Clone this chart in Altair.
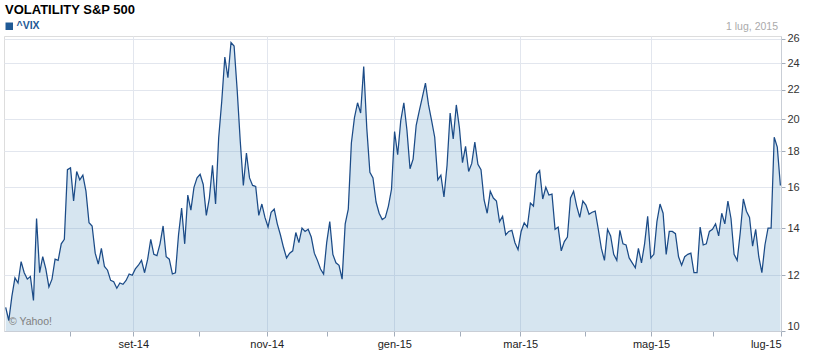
import altair as alt
import pandas as pd

# ^VIX daily closes, trading days 2 Jul 2014 .. 1 Jul 2015
jul14 = [10.8, 10.35, 11.2, 11.9, 11.7, 12.55, 12.1, 11.85, 11.95, 11.05, 14.45, 12.1, 12.75, 12.25, 11.55, 11.85, 12.65, 12.6, 13.3, 13.5, 16.95]
aug14 = [17.05, 15.3, 16.85, 16.4, 16.65, 15.8, 14.25, 14.1, 12.9, 12.45, 13.1, 12.35, 12.2, 11.8, 11.75, 11.5, 11.7, 11.65, 11.8, 12.05, 12.0]
sep14 = [12.25, 12.4, 12.6, 12.1, 12.65, 13.5, 12.85, 12.8, 13.3, 14.1, 12.75, 12.65, 12.05, 12.1, 13.7, 14.95, 13.3, 15.6, 14.85, 16.0, 16.5]
oct14 = [16.7, 16.15, 14.6, 15.45, 17.2, 15.15, 18.8, 21.2, 24.5, 22.9, 25.7, 25.4, 22.0, 18.6, 16.1, 17.9, 16.5, 16.1, 16.05, 14.6, 15.15, 14.5, 14.05]
nov14 = [14.75, 14.9, 14.2, 13.7, 13.15, 12.7, 12.9, 13.0, 13.8, 13.35, 14.0, 13.85, 13.95, 13.6, 12.9, 12.6, 12.25, 12.05, 13.35]
dec14 = [14.3, 12.85, 12.5, 12.4, 11.85, 14.2, 14.9, 18.5, 20.1, 21.1, 20.4, 23.75, 19.4, 16.8, 16.5, 15.25, 14.7, 14.4, 14.5, 15.05, 15.9, 19.2]
jan15 = [17.8, 19.9, 21.1, 19.3, 17.0, 17.55, 19.6, 20.55, 21.5, 22.5, 20.95, 19.9, 18.85, 16.4, 16.65, 15.5, 17.2, 20.4, 18.75, 20.95]
feb15 = [19.45, 17.35, 18.3, 16.85, 17.3, 18.55, 17.25, 16.95, 15.35, 14.7, 15.8, 15.45, 15.3, 14.3, 14.55, 13.7, 13.85, 13.9, 13.35]
mar15 = [13.05, 13.85, 14.25, 14.05, 15.2, 15.05, 16.7, 16.9, 15.4, 16.0, 15.6, 15.65, 13.95, 14.05, 13.0, 13.4, 13.6, 15.45, 15.8, 15.05, 14.5, 15.3]
apr15 = [15.1, 14.65, 14.75, 14.8, 13.95, 13.1, 12.6, 13.95, 13.65, 12.85, 12.6, 13.9, 13.3, 13.25, 12.7, 12.5, 12.3, 13.1, 12.5, 13.3, 14.55]
may15 = [12.7, 12.85, 14.3, 15.15, 14.7, 12.85, 13.85, 13.85, 13.75, 12.75, 12.4, 12.75, 12.85, 12.9, 12.1, 12.1, 14.05, 13.25, 13.3, 13.85]
jun15 = [13.95, 14.2, 13.65, 14.7, 14.2, 15.3, 14.45, 12.85, 12.6, 13.8, 15.4, 14.8, 14.5, 13.2, 13.95, 12.75, 12.1, 13.25, 14.0, 14.0, 18.85, 18.25]
jul15 = [16.1]

# month ticks, in trading-day units, and their labels (blank = minor tick)
month_ticks = [20.83, 41.34, 62.63, 84.56, 104.0, 125.9, 147.2, 166.7, 187.7, 209.1, 229.2, 251.2]
month_labels = ["", "set-14", "", "nov-14", "", "gen-15", "", "mar-15", "", "mag-15", "", "lug-15"]
y_ticks = [10, 12, 14, 16, 18, 20, 22, 24, 26]

title_text = "VOLATILITY S&P 500"
series_name = "^VIX"
date_text = "1 lug, 2015"
credit_text = "\u00a9 Yahoo!"

values = jul14 + aug14 + sep14 + oct14 + nov14 + dec14 + jan15 + feb15 + mar15 + apr15 + may15 + jun15 + jul15
df = pd.DataFrame({"day": list(range(len(values))), "vix": values})

FONT = "Liberation Sans"
LINE = "#1b4b87"
pos_js = "[" + ",".join(str(p) for p in month_ticks) + "]"
lab_js = "[" + ",".join("'" + l + "'" for l in month_labels) + "]"
label_expr = f"{lab_js}[indexof({pos_js}, datum.value)]"
major_js = "[" + ",".join(str(p) for p, l in zip(month_ticks, month_labels) if l) + "]"
grid_test = f"indexof({major_js}, datum.value) >= 0"

xscale = alt.Scale(domain=[-0.55, 251.2], nice=False, zero=False)
yscale = alt.Scale(type="log", domain=[10, 26.25], nice=False)

x_axis = alt.Axis(
    values=month_ticks, labelExpr=label_expr, title=None, orient="bottom",
    grid=True, gridColor="#e2e6ee",
    gridOpacity={"condition": {"test": grid_test, "value": 1}, "value": 0},
    tickSize=5, tickColor="#a3adbb", domainColor="#c9ced6",
    labelFont=FONT, labelFontSize=11, labelColor="#222222", labelPadding=2,
    labelFlush=True, labelOverlap=False,
)
y_axis = alt.Axis(
    values=y_ticks, format="d", title=None, orient="right",
    grid=True, gridColor="#e2e6ee",
    tickSize=4, tickColor="#a3adbb", domainColor="#c9ced6",
    labelFont=FONT, labelFontSize=11, labelColor="#333333", labelPadding=2,
    labelFlush=True, labelOverlap=False,
)

base = alt.Chart(df)

area = base.mark_area(color="#5b97c3", opacity=0.25).encode(
    x=alt.X("day:Q", scale=xscale, axis=x_axis),
    y=alt.Y("vix:Q", scale=yscale, axis=y_axis),
    y2=alt.datum(10),
)
line = base.mark_line(color=LINE, strokeWidth=1.25).encode(
    x=alt.X("day:Q", scale=xscale),
    y=alt.Y("vix:Q", scale=yscale),
)

# legend entry (square swatch + series name), drawn by the library's legend
legend_src = alt.Chart(pd.DataFrame({"s": [series_name]})).mark_square(size=0).encode(
    color=alt.Color(
        "s:N",
        scale=alt.Scale(domain=[series_name], range=["#1f5a96"]),
        legend=alt.Legend(
            orient="none", legendX=0, legendY=-15, title=None, padding=0,
            symbolType="square", symbolSize=56, symbolStrokeWidth=0,
            symbolOpacity=1, labelFont=FONT, labelFontSize=10.5,
            labelFontWeight="bold", labelColor="#1f5a96", labelOffset=2,
        ),
    )
)

date_label = alt.Chart(pd.DataFrame({"t": [date_text]})).mark_text(
    align="right", baseline="alphabetic", font=FONT, fontSize=10.5, color="#aaaaaa"
).encode(text="t:N", x=alt.value(774), y=alt.value(-6))

credit = alt.Chart(pd.DataFrame({"t": [credit_text]})).mark_text(
    align="left", baseline="alphabetic", font=FONT, fontSize=10.5, color="#808080"
).encode(text="t:N", x=alt.value(5), y=alt.value(289))

chart = alt.layer(area, line, legend_src, date_label, credit).properties(
    width=777, height=295,
    padding={"left": 4, "top": 36, "right": 32, "bottom": 31},
    autosize=alt.AutoSizeParams(type="none"),
    title=alt.TitleParams(
        text=title_text, anchor="start", frame="group", dx=1, dy=-1, offset=3,
        font=FONT, fontSize=13, fontWeight="bold", color="#000000",
    ),
).configure_view(stroke="#dcdfe6", strokeWidth=1).configure(background="white")

chart.save("out.html", embed_options={"renderer": "svg", "actions": False})
